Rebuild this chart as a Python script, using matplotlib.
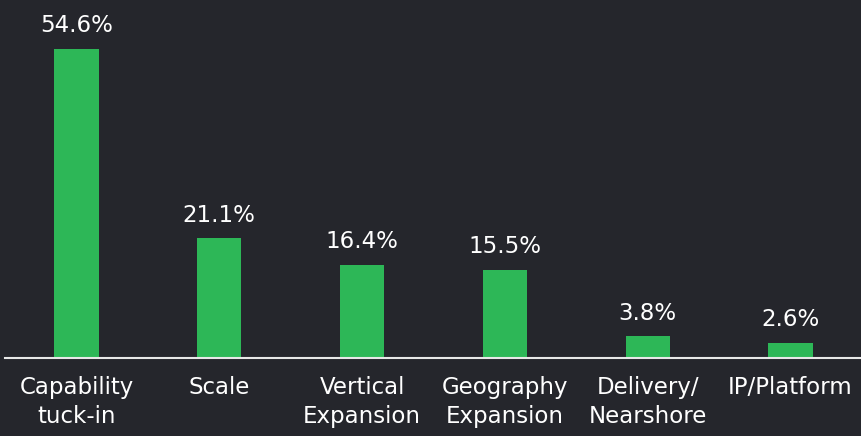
import matplotlib
matplotlib.use("Agg")
import matplotlib.pyplot as plt

categories = ["Capability\ntuck-in", "Scale", "Vertical\nExpansion",
              "Geography\nExpansion", "Delivery/\nNearshore", "IP/Platform"]
values = [54.6, 21.1, 16.4, 15.5, 3.8, 2.6]

BG = "#25262c"
GREEN = "#2db757"

fig = plt.figure(figsize=(8.62, 4.36), dpi=100, facecolor=BG)
ax = fig.add_axes([5 / 862, 1 - 358 / 436, 857 / 862, 358 / 436])
ax.set_facecolor(BG)

x = range(len(values))
ax.bar(x, values, width=0.31, color=GREEN, zorder=2)

for i, v in zip(x, values):
    ax.annotate(f"{v:.1f}%", (i, v), xytext=(0, 8.5), textcoords="offset points",
                ha="center", va="bottom", color="white", fontsize=16.5)

ax.set_xlim(-0.5, 5.5)
ax.set_ylim(0, 63.2)
ax.set_xticks(list(x))
ax.set_xticklabels(categories, color="white", fontsize=16.5, linespacing=1.35)
ax.tick_params(axis="x", length=0, pad=13)
ax.set_yticks([])

for s in ["top", "right", "left"]:
    ax.spines[s].set_visible(False)
ax.spines["bottom"].set_color("#e8e8e8")
ax.spines["bottom"].set_linewidth(1.5)

fig.savefig("out.png", dpi=100, facecolor=BG)
